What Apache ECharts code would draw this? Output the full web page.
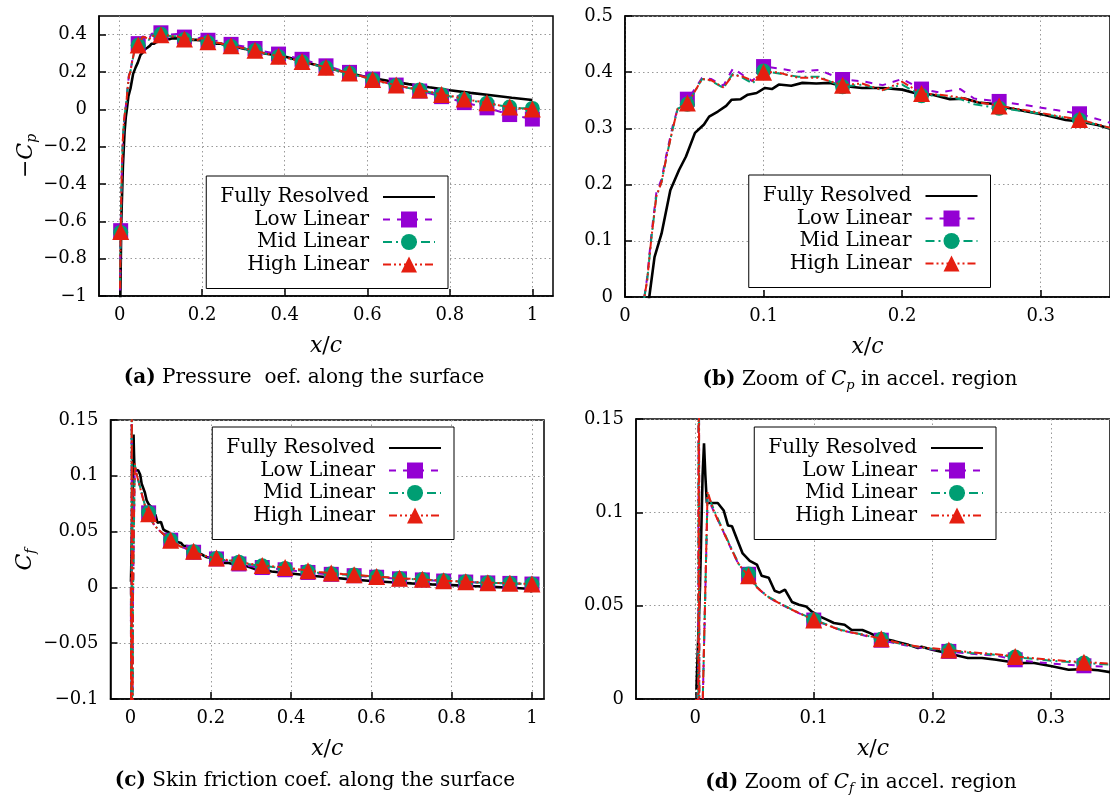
<!DOCTYPE html>
<html>
<head>
<meta charset="utf-8">
<script src="https://cdn.jsdelivr.net/npm/echarts@6/dist/echarts.min.js"></script>
<style>
html, body { margin: 0; padding: 0; background: #fff; }
#main { width: 1110px; height: 796px; }
</style>
</head>
<body>
<div id="main"></div>
<script>
var FONT = 'DejaVu Serif';
var names = ['Fully Resolved', 'Low Linear', 'Mid Linear', 'High Linear'];

// x/c of the points that carry a marker
var markX = [0.0025, 0.045, 0.1, 0.157, 0.214, 0.27, 0.328, 0.385, 0.442, 0.5, 0.557, 0.613, 0.67, 0.727, 0.78, 0.835, 0.89, 0.945, 1.0];

// -Cp, fully resolved
var xCpFR = [0.0015, 0.004, 0.008, 0.012, 0.015, 0.0175, 0.0213, 0.0264, 0.0327, 0.039, 0.044, 0.0505, 0.057, 0.0607, 0.067, 0.073, 0.077, 0.0835, 0.0886, 0.095,
    0.101, 0.106, 0.111, 0.12, 0.128, 0.138, 0.148, 0.156, 0.171, 0.186, 0.2, 0.209, 0.222, 0.2345, 0.245, 0.255, 0.265, 0.273, 0.29, 0.303,
    0.318, 0.328, 0.341, 0.351, 0.4, 0.45, 0.5, 0.55, 0.6, 0.65, 0.7, 0.75, 0.8, 0.85, 0.9, 0.95, 1.0];
var cpFR = [-1.05, -0.6, -0.3, -0.12, -0.04, 0, 0.071, 0.113, 0.19, 0.226, 0.25, 0.292, 0.307, 0.321, 0.33, 0.34, 0.351, 0.352, 0.36, 0.363,
    0.372, 0.37, 0.378, 0.376, 0.381, 0.38, 0.381, 0.376, 0.372, 0.372, 0.369, 0.363, 0.36, 0.352, 0.353, 0.346, 0.344, 0.338, 0.33, 0.324,
    0.315, 0.3125, 0.306, 0.299, 0.283, 0.252, 0.224, 0.197, 0.172, 0.153, 0.135, 0.118, 0.102, 0.088, 0.075, 0.062, 0.05];

// -Cp, linear models
var xCpLin = [0.001, 0.0025, 0.005, 0.008, 0.011, 0.014, 0.016, 0.019, 0.0226, 0.0264, 0.030, 0.0345, 0.038, 0.045, 0.049, 0.0556, 0.062, 0.071, 0.078, 0.085,
    0.092, 0.1, 0.11, 0.125, 0.14, 0.157, 0.171, 0.186, 0.2, 0.214, 0.227, 0.242, 0.252, 0.27, 0.29, 0.31, 0.328, 0.35, 0.385, 0.413,
    0.442, 0.47, 0.5, 0.528, 0.557, 0.585, 0.613, 0.64, 0.67, 0.7, 0.727, 0.755, 0.78, 0.81, 0.835, 0.862, 0.89, 0.918, 0.945, 0.972, 1.0];
var cpLow = [-0.97, -0.65, -0.36, -0.16, -0.06, 0.0, 0.035, 0.11, 0.185, 0.21, 0.255, 0.305, 0.335, 0.352, 0.365, 0.39, 0.388, 0.376, 0.407, 0.395,
    0.384, 0.41, 0.407, 0.401, 0.404, 0.387, 0.384, 0.377, 0.388, 0.37, 0.364, 0.37, 0.353, 0.348, 0.341, 0.333, 0.326, 0.31, 0.296, 0.283,
    0.268, 0.25, 0.233, 0.215, 0.198, 0.18, 0.162, 0.146, 0.13, 0.114, 0.098, 0.083, 0.068, 0.052, 0.036, 0.022, 0.008, -0.01, -0.028, -0.04, -0.052];
var cpMid = [-0.95, -0.66, -0.35, -0.15, -0.05, 0.0, 0.03, 0.104, 0.179, 0.205, 0.25, 0.30, 0.335, 0.343, 0.36, 0.388, 0.385, 0.372, 0.398, 0.39,
    0.38, 0.402, 0.398, 0.392, 0.392, 0.374, 0.378, 0.368, 0.378, 0.358, 0.359, 0.352, 0.343, 0.336, 0.33, 0.322, 0.315, 0.3, 0.282, 0.27,
    0.253, 0.24, 0.223, 0.208, 0.193, 0.176, 0.158, 0.143, 0.128, 0.114, 0.103, 0.09, 0.078, 0.066, 0.054, 0.043, 0.033, 0.022, 0.012, 0.006, 0.005];
var cpHigh = [-0.96, -0.655, -0.35, -0.15, -0.05, 0.0, 0.03, 0.104, 0.179, 0.205, 0.25, 0.30, 0.335, 0.345, 0.36, 0.388, 0.386, 0.373, 0.395, 0.392,
    0.385, 0.40, 0.40, 0.39, 0.39, 0.377, 0.38, 0.368, 0.383, 0.362, 0.36, 0.355, 0.348, 0.34, 0.332, 0.323, 0.316, 0.301, 0.285, 0.272,
    0.256, 0.242, 0.225, 0.21, 0.195, 0.178, 0.16, 0.145, 0.13, 0.116, 0.104, 0.092, 0.08, 0.068, 0.056, 0.045, 0.035, 0.022, 0.012, 0.003, 0.002];

// Cf, fully resolved
var xCfFR = [0.001, 0.004, 0.0062, 0.0074, 0.0085, 0.0098, 0.013, 0.019, 0.024, 0.0276, 0.031, 0.0356, 0.04, 0.046, 0.052, 0.056, 0.062, 0.067, 0.071, 0.0757,
    0.0816, 0.0875, 0.0935, 0.098, 0.105, 0.111, 0.117, 0.126, 0.132, 0.141, 0.147, 0.156, 0.168, 0.18, 0.188, 0.191, 0.2, 0.212, 0.23, 0.242,
    0.254, 0.272, 0.286, 0.301, 0.315, 0.328, 0.34, 0.351, 0.4, 0.45, 0.5, 0.55, 0.6, 0.65, 0.7, 0.75, 0.8, 0.85, 0.9, 0.95, 0.99, 1.0];
var cfFR = [0.005, 0.06, 0.12, 0.137, 0.12, 0.105, 0.105, 0.105, 0.101, 0.093, 0.0925, 0.085, 0.078, 0.074, 0.072, 0.066, 0.065, 0.058, 0.057, 0.0586,
    0.052, 0.0505, 0.0496, 0.047, 0.0443, 0.0425, 0.0407, 0.0398, 0.037, 0.037, 0.0354, 0.0327, 0.031, 0.029, 0.0273, 0.028, 0.0264, 0.0246, 0.022, 0.022,
    0.021, 0.0193, 0.0193, 0.0175, 0.0157, 0.016, 0.0154, 0.0143, 0.0125, 0.0105, 0.0088, 0.0072, 0.0058, 0.0046, 0.0036, 0.0027, 0.002, 0.0012, 0.0005, -0.0003, -0.0012, -0.004];

// Cf, linear models
var xCfLin = [0.0008, 0.0022, 0.003, 0.0038, 0.006, 0.0104, 0.016, 0.022, 0.031, 0.037, 0.045, 0.052, 0.061, 0.07, 0.0816, 0.1, 0.123, 0.141, 0.157, 0.177,
    0.194, 0.214, 0.233, 0.254, 0.27, 0.3, 0.328, 0.35, 0.385, 0.413, 0.442, 0.47, 0.5, 0.528, 0.557, 0.585, 0.613, 0.64, 0.67, 0.7,
    0.727, 0.755, 0.78, 0.81, 0.835, 0.862, 0.89, 0.918, 0.945, 0.972, 1.0];
var cfLow = [0.0, -0.3, 0.3, -0.3, -0.01, 0.108, 0.1, 0.092, 0.0795, 0.0715, 0.0668, 0.0598, 0.0548, 0.0515, 0.0477, 0.0423, 0.0368, 0.0343, 0.0315, 0.0288,
    0.027, 0.0255, 0.0242, 0.0232, 0.021, 0.019, 0.0178, 0.0172, 0.0158, 0.0146, 0.0134, 0.0124, 0.0117, 0.011, 0.0105, 0.0098, 0.0091, 0.0084, 0.0077, 0.0072,
    0.0067, 0.0062, 0.0057, 0.0052, 0.0048, 0.0044, 0.004, 0.0038, 0.0036, 0.0033, 0.003];
var cfMid = [0.0, -0.3, 0.3, -0.3, -0.01, 0.11, 0.101, 0.0925, 0.08, 0.072, 0.067, 0.060, 0.055, 0.0518, 0.0479, 0.0425, 0.037, 0.0345, 0.032, 0.029,
    0.0273, 0.026, 0.0246, 0.0237, 0.0225, 0.0205, 0.0193, 0.0184, 0.0169, 0.0155, 0.0142, 0.013, 0.0122, 0.0115, 0.011, 0.0102, 0.0095, 0.0088, 0.008, 0.0075,
    0.007, 0.0064, 0.0059, 0.0054, 0.005, 0.0045, 0.0041, 0.0039, 0.0037, 0.0033, 0.003];
var cfHigh = [0.0, -0.3, 0.3, -0.3, -0.01, 0.111, 0.1, 0.092, 0.0795, 0.0718, 0.066, 0.0598, 0.0548, 0.0516, 0.0478, 0.0423, 0.0368, 0.0345, 0.0323, 0.0292,
    0.0275, 0.0263, 0.025, 0.024, 0.0228, 0.021, 0.0197, 0.019, 0.0178, 0.0165, 0.015, 0.0138, 0.0128, 0.012, 0.0113, 0.0105, 0.0097, 0.009, 0.0082, 0.0077,
    0.0072, 0.0066, 0.006, 0.0055, 0.0051, 0.0046, 0.0042, 0.004, 0.0038, 0.0034, 0.0031];

// tick labels
var xTicksFull = [0, 0.2, 0.4, 0.6, 0.8, 1];
var xTicksZoom = [0, 0.1, 0.2, 0.3];
var yTicksA = [-1, -0.8, -0.6, -0.4, -0.2, 0, 0.2, 0.4];
var yTicksB = [0, 0.1, 0.2, 0.3, 0.4, 0.5];
var yTicksC = [-0.1, -0.05, 0, 0.05, 0.1, 0.15];
var yTicksD = [0, 0.05, 0.1, 0.15];

var styles = [
    {color: '#000000', dash: 'solid', width: 2.6, symbol: 'none', size: 0},
    {color: '#9400d3', dash: [7, 7], width: 2, symbol: 'rect', size: 15},
    {color: '#009e73', dash: [9, 4, 2, 4], width: 2, symbol: 'circle', size: 15},
    {color: '#e51e10', dash: [8, 3, 2, 3, 2, 3], width: 2, symbol: 'triangle', size: 17}
];

function pairs(xs, ys) {
    return xs.map(function (x, i) { return [x, ys[i]]; });
}

function marked(xs, ys) {
    return xs.map(function (x, i) {
        if (markX.indexOf(x) >= 0) return [x, ys[i]];
        return {value: [x, ys[i]], symbol: 'none'};
    });
}

function fmt(v) {
    var s = String(+Math.abs(v).toFixed(3));
    return '{n|' + (v < 0 ? '\u2212' + s : s) + '}';
}

var richTick = {n: {fontFamily: FONT, fontSize: 18, color: '#000'}};

var richName = {
    i: {fontFamily: FONT, fontStyle: 'italic', fontSize: 22, color: '#000'},
    m: {fontFamily: FONT, fontSize: 22, color: '#000'},
    s: {fontFamily: FONT, fontStyle: 'italic', fontSize: 14, color: '#000', padding: [12, 0, 0, 0]}
};

function axisX(g, min, max, ticks) {
    return {
        type: 'value', gridIndex: g, min: min, max: max, interval: ticks[1] - ticks[0],
        name: '{i|x}{m|/}{i|c}', nameLocation: 'middle', nameGap: 39,
        nameTextStyle: {fontFamily: FONT, rich: richName},
        axisLine: {show: true, onZero: false, lineStyle: {color: '#000', width: 1.5}},
        axisTick: {show: true, inside: true, length: 7, customValues: ticks, lineStyle: {color: '#000', width: 1.5}},
        axisLabel: {customValues: ticks, formatter: fmt, rich: richTick, margin: 10},
        splitLine: {show: true, lineStyle: {color: '#999', type: [1.5, 3], width: 1}}
    };
}

function axisY(g, min, max, ticks, name, gap) {
    return {
        type: 'value', gridIndex: g, min: min, max: max, interval: ticks[1] - ticks[0],
        name: name || '', nameLocation: 'middle', nameGap: gap || 0,
        nameTextStyle: {fontFamily: FONT, rich: richName},
        axisLine: {show: true, onZero: false, lineStyle: {color: '#000', width: 1.5}},
        axisTick: {show: true, inside: true, length: 7, customValues: ticks, lineStyle: {color: '#000', width: 1.5}},
        axisLabel: {customValues: ticks, formatter: fmt, rich: richTick, margin: 12},
        splitLine: {show: true, lineStyle: {color: '#999', type: [1.5, 3], width: 1}}
    };
}

function legend(right, top) {
    return {
        right: right, top: top, orient: 'vertical', align: 'right', selectedMode: false,
        backgroundColor: '#fff', borderColor: '#000', borderWidth: 1, borderRadius: 0, padding: [11, 12, 14, 14],
        itemWidth: 52, itemHeight: 20, itemGap: 2.5,
        formatter: function (name) { return '{n|' + name + '}'; },
        textStyle: {fontFamily: FONT, fontSize: 20, color: '#000', lineHeight: 20, padding: [0, 9, 0, 0],
            rich: {n: {fontFamily: FONT, fontSize: 20, color: '#000', lineHeight: 20}}},
        data: [{name: names[0], itemStyle: {opacity: 0}}, names[1], names[2], names[3]]
    };
}

var richCap = {
    b: {fontFamily: FONT, fontSize: 20, fontWeight: 'bold', color: '#000'},
    i: {fontFamily: FONT, fontSize: 20, fontStyle: 'italic', color: '#000'},
    s: {fontFamily: FONT, fontSize: 13, fontStyle: 'italic', color: '#000', padding: [11, 0, 0, 0]}
};

function caption(text, cx, top) {
    return {
        text: text, left: cx, top: top, textAlign: 'center', padding: 0,
        textStyle: {fontFamily: FONT, fontSize: 20, fontWeight: 'normal', color: '#000', rich: richCap}
    };
}

function panelSeries(g, sets) {
    return sets.map(function (d, k) {
        var st = styles[k];
        return {
            name: names[k], type: 'line', xAxisIndex: g, yAxisIndex: g, data: d,
            symbol: st.symbol, symbolSize: st.size, showSymbol: k > 0, clip: true,
            color: st.color,
            lineStyle: {color: st.color, width: st.width, type: st.dash},
            itemStyle: {color: st.color},
            emphasis: {disabled: true}, z: 2 + k
        };
    });
}

var cpSets = [pairs(xCpFR, cpFR), marked(xCpLin, cpLow), marked(xCpLin, cpMid), marked(xCpLin, cpHigh)];
var cfSets = [pairs(xCfFR, cfFR), marked(xCfLin, cfLow), marked(xCfLin, cfMid), marked(xCfLin, cfHigh)];

var chart = echarts.init(document.getElementById('main'), null, {renderer: 'canvas'});
var option = {
    animation: false,
    backgroundColor: '#fff',
    textStyle: {fontFamily: FONT, color: '#000'},
    title: [
        caption('{b|(a)} Pressure  oef. along the surface', 304, 368),
        caption('{b|(b)} Zoom of {i|C}{s|p} in accel. region', 860, 368),
        caption('{b|(c)} Skin friction coef. along the surface', 315, 771),
        caption('{b|(d)} Zoom of {i|C}{s|f} in accel. region', 861, 771)
    ],
    grid: [
        {left: 99, top: 16, width: 454, height: 280, show: true, borderColor: '#000', borderWidth: 1.5, backgroundColor: 'transparent'},
        {left: 625, top: 16, width: 486, height: 281, show: true, borderColor: '#000', borderWidth: 1.5, backgroundColor: 'transparent'},
        {left: 110.5, top: 420, width: 433.5, height: 279, show: true, borderColor: '#000', borderWidth: 1.5, backgroundColor: 'transparent'},
        {left: 636, top: 419, width: 475, height: 280, show: true, borderColor: '#000', borderWidth: 1.5, backgroundColor: 'transparent'}
    ],
    xAxis: [
        axisX(0, -0.05, 1.05, xTicksFull),
        axisX(1, 0, 0.35, xTicksZoom),
        axisX(2, -0.05, 1.03, xTicksFull),
        axisX(3, -0.05, 0.35, xTicksZoom)
    ],
    yAxis: [
        axisY(0, -1, 0.5, yTicksA, '{m|\u2212}{i|C}{s|p}', 58),
        axisY(1, 0, 0.5, yTicksB),
        axisY(2, -0.1, 0.15, yTicksC, '{i|C}{s|f}', 72),
        axisY(3, 0, 0.15, yTicksD)
    ],
    legend: [
        legend(662, 176),
        legend(119.5, 175),
        legend(656, 427),
        legend(114, 427)
    ],
    series: [].concat(
        panelSeries(0, cpSets),
        panelSeries(1, cpSets),
        panelSeries(2, cfSets),
        panelSeries(3, cfSets)
    )
};
chart.setOption(option);
</script>
</body>
</html>
